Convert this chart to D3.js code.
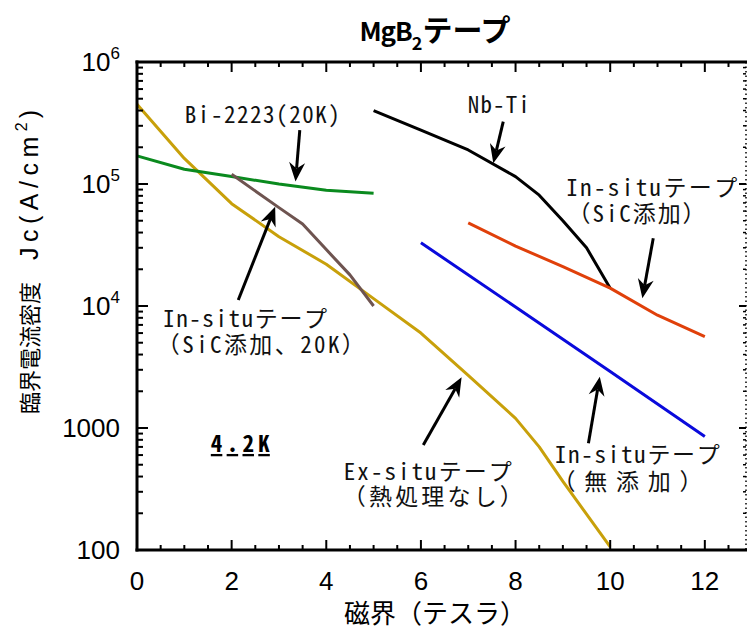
<!DOCTYPE html>
<html><head><meta charset="utf-8">
<script src="https://cdn.jsdelivr.net/npm/d3@7"></script>
<style>body{margin:0;background:#fff}svg{display:block}</style>
</head><body><svg id="c" width="747" height="635"></svg>
<script>
// ---- data (field in tesla, Jc in A/cm^2) ----
const exSituField = [0, 1, 2, 3, 4, 5, 6, 7, 8, 8.5, 9, 10];
const exSituJc    = [4.5e5, 1.62e5, 6.9e4, 3.7e4, 2.2e4, 1.15e4, 6.0e3, 2.7e3, 1.2e3, 700, 365, 106];
const bi2223Field = [0, 1, 2, 3, 4, 5];
const bi2223Jc    = [1.7e5, 1.32e5, 1.15e5, 1.0e5, 8.9e4, 8.4e4];
const sic20kField = [2, 3, 3.5, 4, 4.5, 5];
const sic20kJc    = [1.2e5, 6.4e4, 4.7e4, 2.9e4, 1.8e4, 1.0e4];
const nbtiField   = [5, 6, 7, 8, 8.5, 9, 9.5, 10];
const nbtiJc      = [4.0e5, 2.77e5, 1.9e5, 1.15e5, 8.1e4, 5.0e4, 3.0e4, 1.4e4];
const sicField    = [7, 8, 9, 10, 11, 12];
const sicJc       = [4.8e4, 3.1e4, 2.1e4, 1.4e4, 8.4e3, 5.6e3];
const pureField   = [6, 8, 10, 12];
const pureJc      = [3.3e4, 9.8e3, 2.9e3, 850];

const xTickValues = [0, 2, 4, 6, 8, 10, 12];
const yTickValues = [100, 1000, 1e4, 1e5, 1e6];
const yTickLabels = [["100", ""], ["1000", ""], ["10", "4"], ["10", "5"], ["10", "6"]];

const title = "MgB";
const xLabel = "磁界（テスラ）";
const yLabelJa = "臨界電流密度";
const yLabelEn = "Jc(A/cm";

// annotations: label lines, label anchor (data units), arrow from/to (data units)
const annotations = [
  {lines: ["Bi-2223(20K)"], at: [[1.01, 3.16e5]], widths: [155], from: [3.44, 2.77e5], to: [3.35, 1.05e5]},
  {lines: ["Nb-Ti"], at: [[6.99, 3.82e5]], widths: [62], from: [7.74, 3.24e5], to: [7.53, 1.48e5]},
  {lines: ["In-situテープ", "（SiC添加、20K）"], at: [[0.55, 6.7e3], [0.42, 4.1e3]], widths: [164, 208], from: [2.14, 1.12e4], to: [2.92, 6.5e4]},
  {lines: ["In-situテープ", "（SiC添加）"], at: [[9.07, 7.97e4], [9.1, 4.88e4]], widths: [171, 138], from: [10.91, 3.59e4], to: [10.68, 1.16e4]},
  {lines: ["In-situテープ", "（無添加）"], at: [[8.83, 516], [8.78, 310]], widths: [165, 150], from: [9.54, 750], to: [9.78, 2.63e3]},
  {lines: ["Ex-situテープ", "（熱処理なし）"], at: [[4.37, 375], [4.35, 234]], widths: [168, 180], from: [6.05, 726], to: [6.86, 2.6e3]}
];
const tempLabel = {text: "4.2K", at: [1.56, 636]};

const series = [
  {x: exSituField, y: exSituJc, color: "#C8A00A"},
  {x: bi2223Field, y: bi2223Jc, color: "#0A8A1E"},
  {x: sic20kField, y: sic20kJc, color: "#6E5450"},
  {x: nbtiField, y: nbtiJc, color: "#000000"},
  {x: sicField, y: sicJc, color: "#E0400A"},
  {x: pureField, y: pureJc, color: "#0A0ADC"}
];

// ---- layout ----
const L = 137, R = 746, T = 62, B = 550;
const svg = d3.select("#c");
const x = d3.scaleLinear().domain([0, 12.87]).range([L, R]);
const y = d3.scaleLog().domain([100, 1e6]).range([B, T]);
const jaFont = "'Noto Sans Mono CJK JP','Noto Sans CJK JP',sans-serif";
const jaPropFont = "'Noto Sans CJK JP',sans-serif";
const numFont = "'Liberation Sans',Arial,sans-serif";

// series lines
const line = d3.line().x(d => x(d[0])).y(d => y(d[1]));
series.forEach(s => {
  svg.append("path").datum(s.x.map((v, i) => [v, s.y[i]]))
    .attr("d", line).attr("fill", "none").attr("stroke", s.color)
    .attr("stroke-width", 3).attr("stroke-linejoin", "round");
});

// axes frame
const minorX = d3.range(0, 12.51, 0.5);
const g = svg.append("g");
minorX.forEach(v => {
  const major = Math.abs(v % 2) < 1e-9;
  g.append("line").attr("x1", x(v)).attr("x2", x(v)).attr("y1", B).attr("y2", B - (major ? 10 : 5))
    .attr("stroke", "#000").attr("stroke-width", 2);
  g.append("line").attr("x1", x(v)).attr("x2", x(v)).attr("y1", T).attr("y2", T + (major ? 10 : 5))
    .attr("stroke", "#000").attr("stroke-width", 2);
});
const minorY = [];
[100, 1000, 1e4, 1e5].forEach(d => { for (let k = 2; k <= 9; k++) minorY.push(d * k); });
yTickValues.forEach(v => {
  g.append("line").attr("x1", L).attr("x2", L + 11).attr("y1", y(v)).attr("y2", y(v)).attr("stroke", "#000").attr("stroke-width", 2);
  g.append("line").attr("x1", R).attr("x2", R - 7).attr("y1", y(v)).attr("y2", y(v)).attr("stroke", "#000").attr("stroke-width", 2);
});
minorY.forEach(v => {
  g.append("line").attr("x1", L).attr("x2", L + 6).attr("y1", y(v)).attr("y2", y(v)).attr("stroke", "#000").attr("stroke-width", 2);
  g.append("line").attr("x1", R).attr("x2", R - 3).attr("y1", y(v)).attr("y2", y(v)).attr("stroke", "#000").attr("stroke-width", 1.5);
});
g.append("line").attr("x1", L).attr("x2", L).attr("y1", T - 1.5).attr("y2", B + 1.5).attr("stroke", "#000").attr("stroke-width", 3);
g.append("line").attr("x1", L - 1.5).attr("x2", 747).attr("y1", B).attr("y2", B).attr("stroke", "#000").attr("stroke-width", 3);
g.append("line").attr("x1", L - 1.5).attr("x2", 747).attr("y1", T).attr("y2", T).attr("stroke", "#000").attr("stroke-width", 3);
g.append("line").attr("x1", R).attr("x2", R).attr("y1", T).attr("y2", B).attr("stroke", "#000").attr("stroke-width", 1.5).attr("stroke-dasharray", "1.5,3");

// x tick labels
xTickValues.forEach(v => {
  svg.append("text").attr("x", x(v)).attr("y", B + 40).attr("text-anchor", "middle")
    .attr("font-family", numFont).attr("font-size", 26).text(v);
});
// y tick labels
yTickValues.forEach((v, i) => {
  const t = svg.append("text").attr("x", 120).attr("y", y(v) + 9).attr("text-anchor", "end")
    .attr("font-family", numFont).attr("font-size", 26);
  t.append("tspan").text(yTickLabels[i][0]);
  if (yTickLabels[i][1]) t.append("tspan").attr("dy", -12).attr("font-size", 17).text(yTickLabels[i][1]);
});

// title
const tt = svg.append("text").attr("x", 435).attr("y", 41).attr("text-anchor", "middle")
  .attr("font-family", jaPropFont).attr("font-weight", "bold").attr("font-size", 28);
tt.append("tspan").attr("font-size", 26).attr("letter-spacing", -1).text(title);
tt.append("tspan").attr("dy", 9).attr("font-size", 18).text("2");
tt.append("tspan").attr("dy", -9).attr("font-size", 30).text("テープ");

// x label
svg.append("text").attr("x", 435).attr("y", 623).attr("text-anchor", "middle")
  .attr("font-family", jaPropFont).attr("font-size", 26).text(xLabel);

// y label (reads bottom to top)
const yl = svg.append("text").attr("transform", "translate(38,414) rotate(-90)").attr("text-anchor", "start");
yl.append("tspan").attr("font-family", jaPropFont).attr("font-size", 22).text(yLabelJa);
yl.append("tspan").attr("dx", 22).attr("font-family", numFont).attr("font-size", 25).attr("letter-spacing", 5.5).text(yLabelEn);
yl.append("tspan").attr("font-family", numFont).attr("font-size", 16).attr("dy", -11).attr("letter-spacing", 4).text("2");
yl.append("tspan").attr("font-family", numFont).attr("font-size", 25).attr("dy", 11).text(")");

// annotations
function arrow(x1, y1, x2, y2) {
  const dx = x2 - x1, dy = y2 - y1, len = Math.hypot(dx, dy), ux = dx / len, uy = dy / len, px = -uy, py = ux;
  const hl = 19, hw = 8, notch = 6;
  svg.append("line").attr("x1", x1).attr("y1", y1).attr("x2", x2 - ux * (hl - notch)).attr("y2", y2 - uy * (hl - notch))
    .attr("stroke", "#000").attr("stroke-width", 3);
  const p = [[x2, y2], [x2 - ux * hl + px * hw, y2 - uy * hl + py * hw], [x2 - ux * (hl - notch), y2 - uy * (hl - notch)],
             [x2 - ux * hl - px * hw, y2 - uy * hl - py * hw]];
  svg.append("path").attr("d", "M" + p.map(q => q.join(",")).join("L") + "Z").attr("fill", "#000");
}
annotations.forEach(a => {
  a.lines.forEach((ln, i) => {
    svg.append("text").attr("x", x(a.at[i][0])).attr("y", y(a.at[i][1]))
      .attr("font-family", jaFont).attr("font-size", 23).attr("fill", "#111")
      .attr("textLength", a.widths[i]).attr("lengthAdjust", "spacing").text(ln);
  });
  arrow(x(a.from[0]), y(a.from[1]), x(a.to[0]), y(a.to[1]));
});
svg.append("text").attr("x", x(tempLabel.at[0])).attr("y", y(tempLabel.at[1]))
  .attr("font-family", jaFont).attr("font-weight", "bold").attr("font-size", 23)
  .attr("text-decoration", "underline").attr("textLength", 59).attr("lengthAdjust", "spacing").text(tempLabel.text);
</script></body></html>
